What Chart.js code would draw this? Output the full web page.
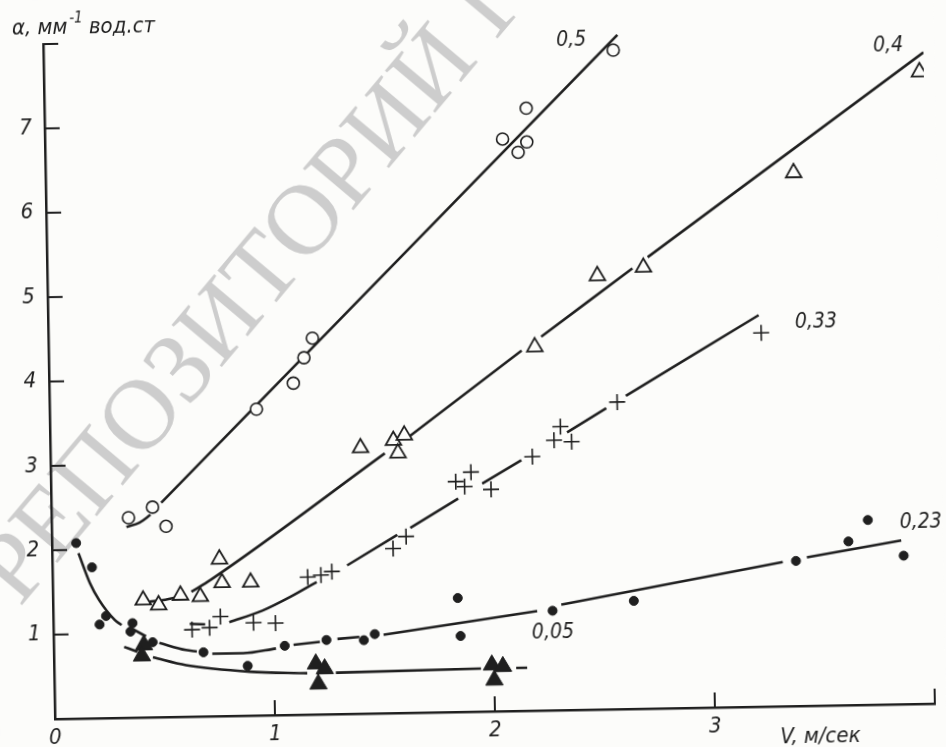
<!DOCTYPE html>
<html>
<head>
<meta charset="utf-8">
<script src="https://cdn.jsdelivr.net/npm/chart.js@4/dist/chart.umd.min.js"></script>
<style>
  html, body { margin: 0; padding: 0; background: #fcfcfa; overflow: hidden; }
  /* скан слегка повёрнут — поворачиваем холст вокруг начала координат */
  #chart { position: absolute; left: 0; top: 0; transform-origin: 55px 719px; transform: rotate(-1deg); }
</style>
</head>
<body>
<canvas id="chart" width="946" height="770"></canvas>
<script>
// α, мм⁻¹ вод.ст в зависимости от V, м/сек

// 0,5 — светлые кружки
const v05 = [0.35, 0.46, 0.52, 0.94, 1.11, 1.16, 1.20, 2.08, 2.15, 2.19, 2.19, 2.59];
const a05 = [2.37, 2.49, 2.26, 3.63, 3.93, 4.23, 4.46, 6.78, 6.62, 6.74, 7.14, 7.81];

// 0,4 — светлые треугольники
const v04 = [0.41, 0.48, 0.58, 0.67, 0.76, 0.77, 0.90, 1.41, 1.56, 1.61, 1.58, 2.21, 2.50, 2.71, 3.40, 3.98];
const a04 = [1.39, 1.33, 1.44, 1.42, 1.86, 1.58, 1.58, 3.15, 3.23, 3.29, 3.08, 4.31, 5.14, 5.23, 6.32, 7.49];

// 0,33 — крестики
const v033 = [0.63, 0.71, 0.76, 0.91, 1.01, 1.16, 1.22, 1.27, 1.55, 1.61, 1.84, 1.88, 1.91, 2.00, 2.19, 2.29, 2.32, 2.37, 2.58, 3.24];
const a033 = [1.03, 1.05, 1.18, 1.10, 1.09, 1.63, 1.65, 1.69, 1.95, 2.09, 2.73, 2.67, 2.84, 2.63, 3.01, 3.20, 3.36, 3.18, 3.64, 4.43];

// 0,23 — чёрные точки
const v023 = [0.11, 0.18, 0.21, 0.24, 0.35, 0.36, 0.45, 0.68, 0.88, 1.05, 1.24, 1.41, 1.46, 1.84, 1.85, 2.27, 2.64, 3.38, 3.62, 3.71, 3.87];
const a023 = [2.08, 1.79, 1.11, 1.21, 1.02, 1.12, 0.89, 0.76, 0.59, 0.82, 0.88, 0.87, 0.94, 1.35, 0.90, 1.18, 1.28, 1.72, 1.94, 2.19, 1.76];

// 0,05 — чёрные треугольники
const v005 = [0.41, 0.40, 1.19, 1.23, 1.20, 1.99, 2.04, 2.00];
const a005 = [0.86, 0.73, 0.60, 0.54, 0.36, 0.55, 0.53, 0.37];

// проведённые кривые (null = разрыв линии у точек)
const fit05V = [0.34, 0.40, 0.45, 0.47, 0.50, 2.61];
const fit05A = [2.26, 2.31, 2.40, null, 2.54, 7.99];

const fit04V = [0.44, 0.51, 0.57, 0.60, 0.63, 0.72, 1.52, 1.57, 1.62, 2.15, 2.20, 2.24, 2.66, 2.70, 2.73, 4.00];
const fit04A = [1.37, 1.39, 1.42, null, 1.48, 1.62, 3.08, null, 3.25, 4.27, null, 4.43, 5.22, null, 5.35, 7.72];

const fit033V = [0.62, 0.69, 0.75, 0.80, 0.95, 1.08, 1.20, 1.27, 1.34, 1.57, 1.60, 1.63, 1.85, 1.90, 1.96, 2.14, 2.25, 2.35, 2.53, 2.58, 2.62, 3.23];
const fit033A = [1.10, 1.09, null, 1.11, 1.24, 1.40, 1.57, null, 1.76, 2.11, null, 2.19, 2.53, null, 2.70, 2.97, null, 3.29, 3.57, null, 3.71, 4.64];

const fit023V = [0.12, 0.17, 0.21, 0.28, 0.31, 0.335, 0.36, 0.42, 0.45, 0.48, 0.60, 0.65, 0.68, 0.72, 0.86, 1.01, 1.05, 1.09, 1.21, 1.25, 1.29, 1.39, 1.44, 1.50, 2.20, 2.26, 2.31, 3.32, 3.38, 3.43, 3.86];
const fit023A = [1.96, 1.60, 1.40, 1.16, 1.10, null, 1.05, 0.96, null, 0.88, 0.79, 0.77, null, 0.74, 0.74, 0.79, null, 0.83, 0.86, null, 0.89, 0.91, null, 0.93, 1.18, null, 1.25, 1.71, null, 1.76, 1.94];

const fit005V = [0.32, 0.38, 0.415, 0.45, 0.60, 0.89, 1.15, 1.22, 1.28, 1.94, 2.02, 2.10, 2.15];
const fit005A = [0.84, 0.78, null, 0.71, 0.61, 0.52, 0.49, null, 0.49, 0.51, null, 0.51, 0.51];

// подписи кривых
const curveNames = ["0,5", "0,4", "0,33", "0,23", "0,05"];
const nameV = [2.40, 3.84, 3.49, 3.95, 2.27];
const nameA = [7.94, 7.80, 4.55, 2.15, 0.92];

const X_MAX = 4;
const Y_MAX = 8;

const INK = "#1f1f1f";
const PAPER = "#fcfcfa";
const FONT = '"Liberation Sans Narrow", "DejaVu Sans Condensed", "Liberation Sans", sans-serif';
const WATERMARK = "РЕПОЗИТОРИЙ ГГУ";

function pts(xs, ys) {
  return xs.map((x, i) => ({ x, y: ys[i] }));
}

function markers(xs, ys, style, radius, filled, width) {
  return {
    data: pts(xs, ys),
    showLine: false,
    pointStyle: style,
    pointRadius: radius,
    pointBorderWidth: width,
    pointBorderColor: INK,
    pointBackgroundColor: filled ? INK : PAPER,
    order: 1,
  };
}

function curve(xs, ys) {
  return {
    data: pts(xs, ys),
    borderColor: INK,
    borderWidth: 2.6,
    pointRadius: 0,
    cubicInterpolationMode: "monotone",
    spanGaps: false,
    fill: false,
    order: 2,
  };
}

const decor = {
  id: "decor",
  beforeDraw(chart) {
    const { ctx } = chart;
    ctx.save();
    ctx.fillStyle = PAPER;
    ctx.fillRect(0, 0, chart.width, chart.height);
    // водяной знак
    ctx.translate(2, 590);
    ctx.rotate(-49 * Math.PI / 180);
    ctx.font = '100px "Liberation Serif", serif';
    ctx.fillStyle = "#cdcdcd";
    ctx.textBaseline = "middle";
    ctx.fillText(WATERMARK, 0, 0);
    ctx.restore();
  },
  afterDraw(chart) {
    const { ctx, chartArea: ca, scales: { x, y } } = chart;
    ctx.save();
    ctx.strokeStyle = INK;
    ctx.lineWidth = 2;
    // риски внутрь поля
    for (let v = 1; v <= Y_MAX; v++) {
      const py = y.getPixelForValue(v);
      ctx.beginPath(); ctx.moveTo(ca.left, py); ctx.lineTo(ca.left + 15, py); ctx.stroke();
    }
    for (let v = 1; v <= X_MAX; v++) {
      const px = x.getPixelForValue(v);
      ctx.beginPath(); ctx.moveTo(px, ca.bottom); ctx.lineTo(px, ca.bottom - 15); ctx.stroke();
    }

    ctx.fillStyle = INK;
    ctx.font = `italic 21px ${FONT}`;
    ctx.textAlign = "center";
    ctx.textBaseline = "middle";
    curveNames.forEach((t, i) => {
      ctx.fillText(t, x.getPixelForValue(nameV[i]), y.getPixelForValue(nameA[i]));
    });

    // подписи осей
    ctx.textAlign = "left";
    ctx.textBaseline = "alphabetic";
    ctx.font = `italic 22px ${FONT}`;
    let tx = 24;
    ctx.fillText("α, мм", tx, 34);
    tx += ctx.measureText("α, мм").width + 2;
    ctx.font = `italic 15px ${FONT}`;
    ctx.fillText("-1", tx, 23);
    tx += ctx.measureText("-1").width + 6;
    ctx.font = `italic 22px ${FONT}`;
    ctx.fillText("вод.ст", tx, 34);

    ctx.textAlign = "center";
    ctx.textBaseline = "middle";
    ctx.fillText("V, м/сек", 820, 750);
    ctx.restore();
  },
};

new Chart(document.getElementById("chart"), {
  type: "line",
  data: {
    datasets: [
      markers(v05, a05, "circle", 6, false, 1.6),
      markers(v04, a04, "triangle", 9, false, 1.8),
      markers(v033, a033, "cross", 8, false, 1.6),
      markers(v023, a023, "circle", 4.5, true, 1),
      markers(v005, a005, "triangle", 10, true, 1),
      curve(fit05V, fit05A),
      curve(fit04V, fit04A),
      curve(fit033V, fit033A),
      curve(fit023V, fit023A),
      curve(fit005V, fit005A),
    ],
  },
  options: {
    responsive: false,
    animation: false,
    devicePixelRatio: 1,
    layout: { padding: { left: 0, right: 10, top: 44, bottom: 0 } },
    plugins: { legend: { display: false }, tooltip: { enabled: false } },
    scales: {
      x: {
        type: "linear",
        min: 0,
        max: X_MAX,
        afterFit: (s) => { s.height = 51; },
        grid: { display: false, drawTicks: false },
        border: { display: true, color: INK, width: 2.5 },
        ticks: {
          stepSize: 1,
          padding: 6,
          color: INK,
          font: { family: FONT, size: 22, style: "italic" },
          callback: (v) => (v === X_MAX ? "" : String(v)),
        },
      },
      y: {
        min: 0,
        max: Y_MAX,
        afterFit: (s) => { s.width = 55; },
        grid: { display: false, drawTicks: false },
        border: { display: true, color: INK, width: 2.5 },
        ticks: {
          stepSize: 1,
          padding: 13,
          color: INK,
          font: { family: FONT, size: 22, style: "italic" },
          callback: (v) => (v === 0 || v === Y_MAX ? "" : String(v)),
        },
      },
    },
  },
  plugins: [decor],
});
</script>
</body>
</html>
